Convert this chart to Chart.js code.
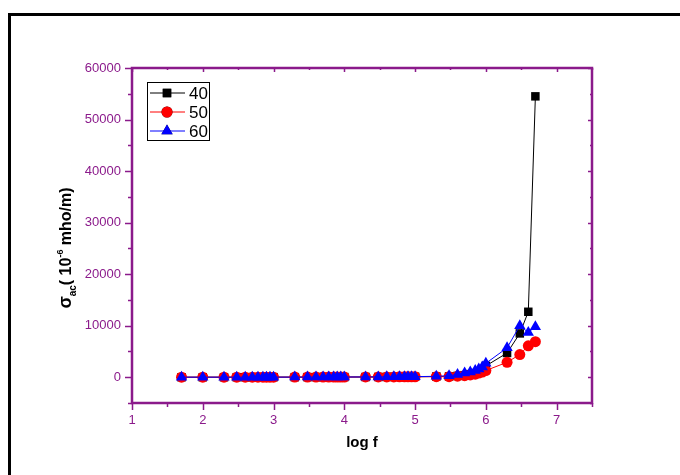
<!DOCTYPE html>
<html lang="en">
<head>
    <meta charset="UTF-8">
    <title>AC conductivity vs log f</title>
    <script src="https://cdn.jsdelivr.net/npm/chart.js"></script>
    <style>
        body { margin: 0; background: #fff; }
        canvas { display: block; }
    </style>
</head>
<body>
    <canvas id="sigmaChart" width="680" height="475"></canvas>

    <script>
        // log of frequency (Hz)
        const logF = [1.70, 2.00, 2.30, 2.48, 2.60, 2.70, 2.78, 2.85, 2.90, 2.95, 3.00,
                      3.30, 3.48, 3.60, 3.70, 3.78, 3.85, 3.90, 3.95, 4.00,
                      4.30, 4.48, 4.60, 4.70, 4.78, 4.85, 4.90, 4.95, 5.00,
                      5.30, 5.48, 5.60, 5.70, 5.78, 5.85, 5.90, 5.95, 6.00,
                      6.30, 6.48, 6.60, 6.70];

        // sigma_ac in 10^-6 mho/m
        const sigma40 = [5, 6, 8, 9, 10, 11, 12, 13, 14, 15, 16,
                         20, 22, 24, 26, 28, 30, 32, 34, 36,
                         45, 52, 58, 64, 70, 76, 82, 88, 95,
                         140, 150, 250, 400, 600, 800, 1100, 1500, 2200,
                         4700, 8500, 12700, 54500];
        const sigma50 = [8, 9, 10, 11, 12, 13, 14, 15, 16, 17, 18,
                         22, 25, 27, 29, 31, 33, 35, 37, 40,
                         48, 55, 60, 66, 72, 78, 84, 90, 96,
                         110, 100, 200, 300, 450, 600, 800, 1000, 1300,
                         2900, 4400, 6100, 6900];
        const sigma60 = [10, 11, 12, 13, 14, 15, 16, 17, 18, 19, 20,
                         25, 28, 30, 32, 34, 36, 38, 40, 42,
                         55, 62, 70, 78, 85, 92, 100, 108, 115,
                         180, 300, 550, 800, 1000, 1300, 1600, 2000, 2700,
                         5700, 10000, 8700, 9800];

        const seriesNames = ['40', '50', '60'];

        const purple = '#8b1a8b';

        const toPoints = arr => arr.map((v, i) => ({ x: logF[i], y: v }));

        // axis box, tick marks, outer frame, legend and axis titles
        const decorPlugin = {
            id: 'decor',
            afterDraw(chart) {
                const ctx = chart.ctx;
                const a = chart.chartArea;
                const xs = chart.scales.x, ys = chart.scales.y;
                ctx.save();

                // outer frame
                ctx.fillStyle = '#000';
                ctx.fillRect(8, 13, 3, 475);
                ctx.fillRect(8, 13, 680, 3);

                // ticks
                ctx.strokeStyle = purple;
                ctx.lineWidth = 1.5;
                ctx.beginPath();
                xs.ticks.forEach(t => {
                    const px = Math.round(xs.getPixelForValue(t.value)) + 0.5;
                    const major = Number.isInteger(t.value);
                    ctx.moveTo(px, a.bottom);
                    ctx.lineTo(px, a.bottom + (major ? 7 : 4));
                    ctx.moveTo(px, a.top);
                    ctx.lineTo(px, a.top + (major ? 4 : 2));
                });
                ys.ticks.forEach(t => {
                    const py = Math.round(ys.getPixelForValue(t.value)) + 0.5;
                    const major = t.value % 10000 === 0;
                    ctx.moveTo(a.left, py);
                    ctx.lineTo(a.left - (major ? 7 : 4), py);
                    ctx.moveTo(a.right, py);
                    ctx.lineTo(a.right - (major ? 4 : 2), py);
                });
                ctx.stroke();

                // axis box
                ctx.lineWidth = 2.5;
                ctx.strokeRect(a.left, a.top, a.right - a.left, a.bottom - a.top);

                // legend
                ctx.lineWidth = 1;
                ctx.strokeStyle = '#000';
                ctx.strokeRect(147.5, 82.5, 62, 58);
                ctx.font = '17px Arial';
                ctx.textBaseline = 'middle';
                chart.data.datasets.forEach((ds, i) => {
                    const yy = 93 + i * 19;
                    ctx.strokeStyle = ds.borderColor;
                    ctx.lineWidth = 1;
                    ctx.beginPath();
                    ctx.moveTo(150, yy);
                    ctx.lineTo(185, yy);
                    ctx.stroke();
                    Chart.helpers.drawPoint(ctx, {
                        pointStyle: ds.pointStyle,
                        radius: ds.pointRadius,
                        rotation: 0,
                        borderWidth: 0
                    }, 167, yy);
                    ctx.fillStyle = ds.pointBackgroundColor;
                    ctx.fill();
                    ctx.fillStyle = '#000';
                    ctx.fillText(ds.label, 189, yy + 1);
                });

                // x title
                ctx.fillStyle = '#000';
                ctx.font = 'bold 15px Arial';
                ctx.textAlign = 'center';
                ctx.textBaseline = 'middle';
                ctx.fillText('log f', 362, 443);

                // y title with sub/superscripts
                const parts = [
                    { t: 'σ', f: 'bold 18px Arial', dy: 0 },
                    { t: 'ac', f: 'bold 10px Arial', dy: 5 },
                    { t: '( 10', f: 'bold 16px Arial', dy: 0 },
                    { t: '-6', f: 'bold 9px Arial', dy: -8 },
                    { t: ' mho/m)', f: 'bold 16px Arial', dy: 0 }
                ];
                let total = 0;
                parts.forEach(p => { ctx.font = p.f; p.w = ctx.measureText(p.t).width; total += p.w; });
                ctx.translate(66, 248);
                ctx.rotate(-Math.PI / 2);
                ctx.textAlign = 'left';
                ctx.textBaseline = 'alphabetic';
                let cx = -total / 2;
                parts.forEach(p => {
                    ctx.font = p.f;
                    ctx.fillText(p.t, cx, 5 + p.dy);
                    cx += p.w;
                });

                ctx.restore();
            }
        };

        new Chart(document.getElementById('sigmaChart').getContext('2d'), {
            type: 'scatter',
            data: {
                datasets: [
                    {
                        label: seriesNames[0],
                        data: toPoints(sigma40),
                        showLine: true,
                        borderColor: '#000',
                        borderWidth: 1,
                        pointStyle: 'rect',
                        pointRadius: 6,
                        pointBackgroundColor: '#000',
                        pointBorderWidth: 0,
                        order: 2
                    },
                    {
                        label: seriesNames[1],
                        data: toPoints(sigma50),
                        showLine: true,
                        borderColor: '#ff0000',
                        borderWidth: 1,
                        pointStyle: 'circle',
                        pointRadius: 5.5,
                        pointBackgroundColor: '#ff0000',
                        pointBorderWidth: 0,
                        order: 1
                    },
                    {
                        label: seriesNames[2],
                        data: toPoints(sigma60),
                        showLine: true,
                        borderColor: '#0000ff',
                        borderWidth: 1,
                        pointStyle: 'triangle',
                        pointRadius: 6.5,
                        pointBackgroundColor: '#0000ff',
                        pointBorderWidth: 0,
                        order: 0
                    }
                ]
            },
            options: {
                responsive: false,
                animation: false,
                layout: { padding: { top: 68, right: 88, left: 0, bottom: 0 } },
                plugins: {
                    legend: { display: false },
                    tooltip: { enabled: false }
                },
                scales: {
                    x: {
                        type: 'linear',
                        min: 1,
                        max: 7.5,
                        grid: { display: false, drawTicks: false },
                        border: { display: false },
                        ticks: {
                            stepSize: 0.5,
                            autoSkip: false,
                            maxRotation: 0,
                            padding: 10,
                            color: purple,
                            font: { family: 'Arial', size: 13 },
                            callback: v => Number.isInteger(v) ? v : ''
                        },
                        afterFit: s => { s.height = 72; }
                    },
                    y: {
                        min: -5000,
                        max: 60000,
                        grid: { display: false, drawTicks: false },
                        border: { display: false },
                        ticks: {
                            stepSize: 5000,
                            autoSkip: false,
                            padding: 11,
                            color: purple,
                            font: { family: 'Arial', size: 13 },
                            callback: v => v % 10000 === 0 ? v : ''
                        },
                        afterFit: s => { s.width = 132; }
                    }
                }
            },
            plugins: [decorPlugin]
        });
    </script>
</body>
</html>
